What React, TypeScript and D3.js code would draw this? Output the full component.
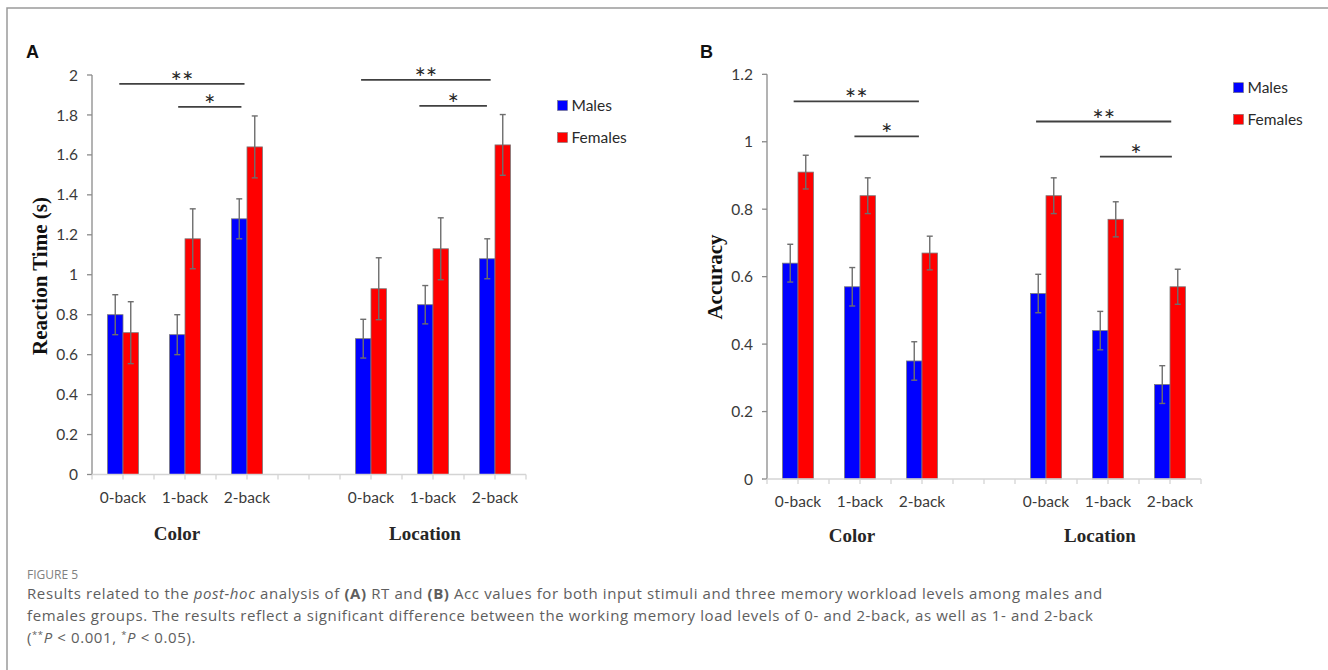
import React from "react";
import * as d3 from "d3";

// ---------- data ----------
const levels = ["0-back", "1-back", "2-back"];
const stimuli = ["Color", "Location"];
const seriesNames = ["Males", "Females"];
const seriesColors = ["#0000ff", "#ff0000"];

// Reaction time (s), order: Color 0/1/2-back, Location 0/1/2-back
const rtMales = [0.8, 0.7, 1.28, 0.68, 0.85, 1.08];
const rtFemales = [0.71, 1.18, 1.64, 0.93, 1.13, 1.65];
const rtMalesErr = [0.1, 0.1, 0.1, 0.097, 0.096, 0.1];
const rtFemalesErr = [0.155, 0.15, 0.155, 0.155, 0.155, 0.152];
const rtTicks = [0, 0.2, 0.4, 0.6, 0.8, 1, 1.2, 1.4, 1.6, 1.8, 2];

// Accuracy
const accMales = [0.64, 0.57, 0.35, 0.55, 0.44, 0.28];
const accFemales = [0.91, 0.84, 0.67, 0.84, 0.77, 0.57];
const accMalesErr = [0.056, 0.057, 0.057, 0.057, 0.057, 0.056];
const accFemalesErr = [0.05, 0.053, 0.05, 0.053, 0.052, 0.052];
const accTicks = [0, 0.2, 0.4, 0.6, 0.8, 1, 1.2];

// significance brackets: [start slot, end slot, y value, label]
const rtBrackets: [number, number, number, string][] = [
  [0.44, 2.46, 1.956, "**"],
  [1.39, 2.41, 1.84, "*"],
  [4.34, 6.43, 1.976, "**"],
  [5.28, 6.37, 1.845, "*"],
];
const accBrackets: [number, number, number, string][] = [
  [0.43, 2.45, 1.12, "**"],
  [1.41, 2.45, 1.016, "*"],
  [4.34, 6.52, 1.06, "**"],
  [5.37, 6.53, 0.956, "*"],
];

const SLOTS = d3.range(7); // slot 3 is the empty gap between stimuli
const slotOf = (i: number) => (i < 3 ? i : i + 1);

const TICK_FONT = "Lato, 'Open Sans', sans-serif";
const SERIF = "'Liberation Serif', 'Times New Roman', serif";

type PanelProps = {
  left: number;
  right: number;
  yTop: number;
  yZero: number;
  yMax: number;
  ticks: number[];
  males: number[];
  females: number[];
  malesErr: number[];
  femalesErr: number[];
  brackets: [number, number, number, string][];
  title: string;
  titleX: number;
  titleY: number;
  legendX: number;
  legendY: number[];
  label: string;
  labelX: number;
  labelY: number;
  groupBaseline: number;
};

function Panel(p: PanelProps) {
  const x = d3.scaleBand<number>().domain(SLOTS).range([p.left, p.right]).padding(0);
  const bw = x.bandwidth();
  const xSub = d3.scaleBand<string>().domain(seriesNames).range([bw / 4, (3 * bw) / 4]).padding(0);
  const y = d3.scaleLinear().domain([0, p.yMax]).range([p.yZero, p.yTop]);
  const xCont = d3.scaleLinear().domain([0, 7]).range([p.left, p.right]);
  const values = [p.males, p.females];
  const errs = [p.malesErr, p.femalesErr];
  const halfTicks = d3.range(15).map((i) => p.left + (i * bw) / 2);

  return (
    <g>
      <text x={p.labelX} y={p.labelY} fontFamily="'Liberation Sans', Arial, sans-serif" fontWeight="bold" fontSize={18} fill="#111">
        {p.label}
      </text>
      {/* y axis */}
      <line x1={p.left} x2={p.left} y1={y(0)} y2={y(p.yMax)} stroke="#8a8a8a" strokeWidth={1.3} />
      {p.ticks.map((t) => (
        <g key={t}>
          <line x1={p.left - 5} x2={p.left} y1={y(t)} y2={y(t)} stroke="#8a8a8a" strokeWidth={1.3} />
          <text x={p.left - 14} y={y(t)} dy="0.36em" textAnchor="end" fontFamily={TICK_FONT} fontSize={15.5} fill="#3a3a3a">
            {String(t)}
          </text>
        </g>
      ))}
      {/* bars */}
      {values.map((vals, s) =>
        vals.map((v, i) => {
          const bx = (x(slotOf(i)) as number) + (xSub(seriesNames[s]) as number);
          const sw = xSub.bandwidth();
          return (
            <rect key={`b${s}-${i}`} x={bx} y={y(v)} width={sw} height={y(0) - y(v)} fill={seriesColors[s]} stroke="#7a7a7a" strokeWidth={0.8} />
          );
        })
      )}
      {/* error bars */}
      {values.map((vals, s) =>
        vals.map((v, i) => {
          const cx = (x(slotOf(i)) as number) + (xSub(seriesNames[s]) as number) + xSub.bandwidth() / 2;
          const e = errs[s][i];
          return (
            <g key={`e${s}-${i}`} stroke="#6e6e6e" strokeWidth={1.4}>
              <line x1={cx} x2={cx} y1={y(v + e)} y2={y(v - e)} />
              <line x1={cx - 3} x2={cx + 3} y1={y(v + e)} y2={y(v + e)} />
              <line x1={cx - 3} x2={cx + 3} y1={y(v - e)} y2={y(v - e)} />
            </g>
          );
        })
      )}
      {/* x axis */}
      <line x1={p.left} x2={p.right} y1={y(0)} y2={y(0)} stroke="#d4d4d4" strokeWidth={1.3} />
      {halfTicks.map((tx, i) => (
        <line key={`t${i}`} x1={tx} x2={tx} y1={y(0)} y2={y(0) + 5} stroke="#d4d4d4" strokeWidth={1.3} />
      ))}
      {stimuli.map((st, si) =>
        levels.map((lv, li) => {
          const slot = slotOf(si * 3 + li);
          return (
            <text key={`${st}-${lv}`} x={(x(slot) as number) + bw / 2} y={y(0) + 28} textAnchor="middle" fontFamily={TICK_FONT} fontSize={15.5} fill="#3a3a3a">
              {lv}
            </text>
          );
        })
      )}
      {stimuli.map((st, si) => {
        const c0 = (x(slotOf(si * 3)) as number) + bw / 2;
        const c2 = (x(slotOf(si * 3 + 2)) as number) + bw / 2;
        return (
          <text key={st} x={(c0 + c2) / 2 - 8} y={p.groupBaseline} textAnchor="middle" fontFamily={SERIF} fontWeight="bold" fontSize={19} fill="#262626">
            {st}
          </text>
        );
      })}
      {/* significance brackets */}
      {p.brackets.map(([a, b, v, lab], i) => (
        <g key={`s${i}`}>
          <line x1={xCont(a)} x2={xCont(b)} y1={y(v)} y2={y(v)} stroke="#404040" strokeWidth={1.8} />
          <text x={(xCont(a) + xCont(b)) / 2} y={y(v) + 8} textAnchor="middle" fontFamily={TICK_FONT} fontSize={27} fill="#262626">
            {lab}
          </text>
        </g>
      ))}
      {/* y title */}
      <text transform={`translate(${p.titleX},${p.titleY}) rotate(-90)`} textAnchor="middle" fontFamily={SERIF} fontWeight="bold" fontSize={21} fill="#111">
        {p.title}
      </text>
      {/* legend */}
      {seriesNames.map((n, i) => (
        <g key={n}>
          <rect x={p.legendX} y={p.legendY[i] - 5} width={10} height={10} fill={seriesColors[i]} stroke="#7a7a7a" strokeWidth={0.6} />
          <text x={p.legendX + 14} y={p.legendY[i]} dy="0.36em" fontFamily={TICK_FONT} fontSize={15.5} fill="#2a2a2a">
            {n}
          </text>
        </g>
      ))}
    </g>
  );
}

export default function App() {
  const capFont = "'Open Sans', Lato, sans-serif";
  return (
    <svg width={1328} height={670} style={{ position: "absolute", left: 0, top: 0, background: "#fff" }}>
      <rect x={0} y={0} width={1328} height={670} fill="#fff" />
      <path d="M7,670 V8 H1328" fill="none" stroke="#9a9a9a" strokeWidth={1.5} />
      <Panel
        left={92}
        right={526}
        yTop={75}
        yZero={474.5}
        yMax={2}
        ticks={rtTicks}
        males={rtMales}
        females={rtFemales}
        malesErr={rtMalesErr}
        femalesErr={rtFemalesErr}
        brackets={rtBrackets}
        title="Reaction Time (s)"
        titleX={47}
        titleY={276}
        legendX={557.5}
        legendY={[105.5, 137.5]}
        label="A"
        labelX={26}
        labelY={58}
        groupBaseline={539.5}
      />
      <Panel
        left={767}
        right={1201}
        yTop={74.3}
        yZero={479}
        yMax={1.2}
        ticks={accTicks}
        males={accMales}
        females={accFemales}
        malesErr={accMalesErr}
        femalesErr={accFemalesErr}
        brackets={accBrackets}
        title="Accuracy"
        titleX={721.5}
        titleY={277}
        legendX={1233.5}
        legendY={[87.7, 119.3]}
        label="B"
        labelX={700}
        labelY={58}
        groupBaseline={541.5}
      />
      {/* caption */}
      <text x={27} y={578.5} fontFamily={capFont} fontSize={12} fill="#808080">
        FIGURE 5
      </text>
      <g fontFamily={capFont} fontSize={15} letterSpacing={0.6} fill="#5e5e5e">
        <text x={27} y={599}>
          Results related to the <tspan fontStyle="italic">post-hoc</tspan> analysis of <tspan fontWeight="bold">(A)</tspan> RT and{" "}
          <tspan fontWeight="bold">(B)</tspan> Acc values for both input stimuli and three memory workload levels among males and
        </text>
        <text x={27} y={621}>
          females groups. The results reflect a significant difference between the working memory load levels of 0- and 2-back, as well as 1- and 2-back
        </text>
        <text x={27} y={643}>
          (<tspan fontSize={9.5} dy={-5}>**</tspan>
          <tspan fontStyle="italic" dy={5}>P</tspan> {"<"} 0.001, <tspan fontSize={9.5} dy={-5}>*</tspan>
          <tspan fontStyle="italic" dy={5}>P</tspan> {"<"} 0.05).
        </text>
      </g>
    </svg>
  );
}
